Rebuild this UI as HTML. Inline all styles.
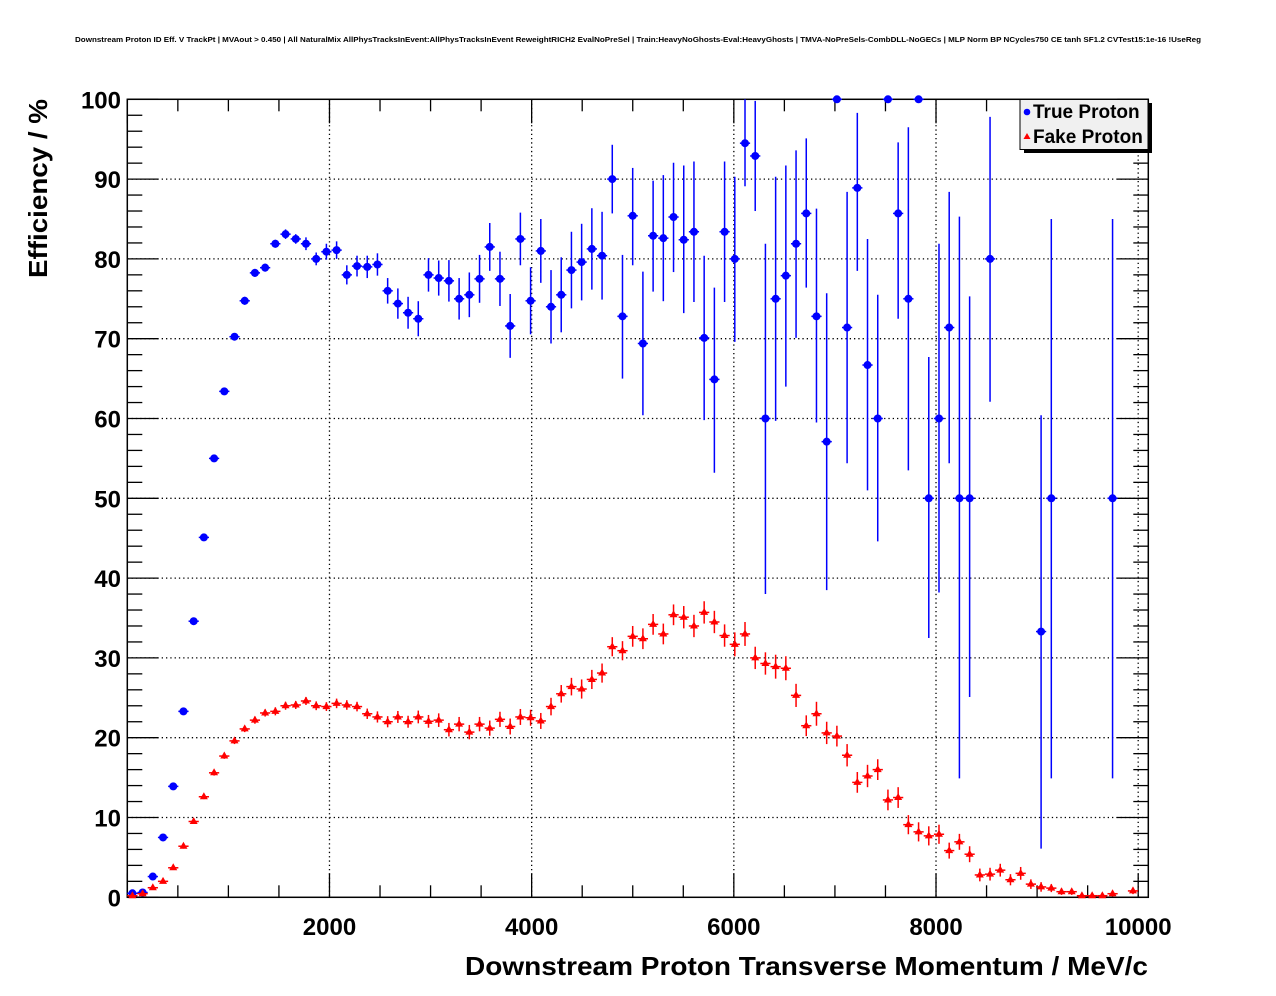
<!DOCTYPE html>
<html><head><meta charset="utf-8"><style>
body{margin:0;background:#fff;}
svg{display:block;font-family:"Liberation Sans",Arial,sans-serif;}
</style></head><body>
<svg id="chart" width="1276" height="996" viewBox="0 0 1276 996">
<rect x="0" y="0" width="1276" height="996" fill="#fff"/>
<text x="75" y="42" font-size="7.5" font-weight="bold" textLength="1126" lengthAdjust="spacingAndGlyphs">Downstream Proton ID Eff. V TrackPt | MVAout &gt; 0.450 | All NaturalMix AllPhysTracksInEvent:AllPhysTracksInEvent ReweightRICH2 EvalNoPreSel | Train:HeavyNoGhosts-Eval:HeavyGhosts | TMVA-NoPreSels-CombDLL-NoGECs | MLP Norm BP NCycles750 CE tanh SF1.2 CVTest15:1e-16 !UseReg</text>
<g id="grid"></g>
<g id="axes"></g>
<g id="blue"></g>
<g id="red"></g>
<text x="1148" y="975" text-anchor="end" font-size="26" font-weight="bold" textLength="683" lengthAdjust="spacingAndGlyphs">Downstream Proton Transverse Momentum / MeV/c</text>
<text transform="translate(47,99) rotate(-90)" text-anchor="end" font-size="26" font-weight="bold" textLength="179" lengthAdjust="spacingAndGlyphs">Efficiency / %</text>
<g>
<rect x="1024" y="103" width="128" height="50" fill="#000"/>
<rect x="1020" y="99.5" width="128" height="50" fill="#f0f0f0" stroke="#000" stroke-width="1"/>
<circle cx="1027" cy="112" r="3.3" fill="#0000ff"/>
<text x="1033" y="118" font-size="19" font-weight="bold">True Proton</text>
<polygon points="1027,133 1023.5,139 1030.5,139" fill="#ff0000"/>
<text x="1033" y="143" font-size="19" font-weight="bold">Fake Proton</text>
</g>
</svg>
<script>
const binWidth = 101;
const nBins = 100;
const trueVals = [0.5,0.6,2.6,7.5,13.9,23.3,34.6,45.1,55.0,63.4,
70.25,74.75,78.25,78.9,81.9,83.1,82.5,81.9,80,80.9,
81.1,78,79.1,79,79.3,76,74.4,73.25,72.5,78,
77.6,77.25,75,75.5,77.5,81.5,77.5,71.6,82.5,74.75,
81,74,75.5,78.6,79.6,81.25,80.4,90,72.8,85.4,
69.4,82.9,82.6,85.25,82.4,83.4,70.1,64.9,83.4,80,
94.5,92.9,60,75,77.9,81.9,85.7,72.8,57.1,100,
71.4,88.9,66.7,60,100,85.7,75,100,50,60,
71.4,50,50,null,80,null,null,null,null,33.3,
50,null,null,null,null,null,50,null,null,null];
const trueErrHi = [0.3,0.3,0.3,0.3,0.3,0.3,0.4,0.4,0.4,0.4,
0.4,0.5,0.5,0.5,0.5,0.6,0.6,0.8,0.8,1.0,
1.1,1.2,1.3,1.4,1.4,1.6,1.9,2.0,2.2,2.1,
2.2,2.6,2.6,2.8,3.0,3.0,3.4,4.0,3.3,4.2,
4.0,4.6,4.7,4.8,4.8,5.1,5.5,4.3,7.7,6.0,
9.0,6.9,7.9,6.8,9.3,8.8,10.3,11.5,8.8,10.3,
5.5,6.9,21.9,15.3,13.8,11.7,9.4,13.5,18.6,0,
17,9.4,15.8,15.5,0,8.9,21.5,0,17.7,21.9,
17,35.3,25.3,0,17.8,0,0,0,0,27.1,
35,0,0,0,0,0,35,0,0,0];
const trueErrLo = [0.3,0.3,0.3,0.3,0.3,0.3,0.4,0.4,0.4,0.4,
0.4,0.5,0.5,0.5,0.5,0.6,0.6,0.8,0.8,1.0,
1.1,1.2,1.3,1.4,1.4,1.6,1.9,2.0,2.2,2.1,
2.2,2.6,2.6,2.8,3.0,3.0,3.4,4.0,3.3,4.2,
4.0,4.6,4.7,4.8,4.8,5.1,5.5,4.3,7.8,6.2,
9.0,7.0,7.9,6.9,9.2,8.8,10.3,11.7,8.8,10.4,
5.4,6.9,22,15.3,13.9,11.8,9.3,13.3,18.6,0,
17,10.4,15.7,15.4,0,13.2,21.5,0,17.5,21.8,
17,35.1,24.9,0,17.9,0,0,0,0,27.2,
35.1,0,0,0,0,0,35.1,0,0,0];
const fakeVals = [0.2,0.45,1.2,2.0,3.7,6.4,9.5,12.6,15.6,17.7,
19.6,21.1,22.2,23.1,23.3,24.0,24.1,24.6,24.0,23.9,
24.3,24.1,23.9,23.0,22.6,22.0,22.6,22.0,22.6,22.05,
22.2,21.0,21.7,20.7,21.7,21.2,22.3,21.4,22.6,22.5,
22.1,23.9,25.5,26.4,26.1,27.3,28.1,31.4,30.9,32.7,
32.4,34.2,33.0,35.4,35.1,34.0,35.7,34.5,32.8,31.7,
33.0,30.0,29.3,28.9,28.7,25.3,21.5,23.0,20.6,20.2,
17.8,14.4,15.2,16.0,12.2,12.5,9.1,8.2,7.7,7.9,
5.85,6.95,5.4,2.8,2.9,3.4,2.2,3.0,1.65,1.3,
1.15,0.7,0.7,0.2,0.2,0.2,0.45,null,0.8,null];
const fakeErr = [0.15,0.15,0.2,0.2,0.25,0.3,0.3,0.3,0.35,0.35,
0.4,0.4,0.45,0.45,0.5,0.5,0.5,0.5,0.55,0.55,
0.6,0.6,0.6,0.65,0.7,0.7,0.75,0.75,0.8,0.8,
0.85,0.85,0.9,0.9,0.9,0.95,0.95,1.0,1.0,1.0,
1.0,1.1,1.1,1.1,1.2,1.2,1.2,1.2,1.2,1.3,
1.3,1.3,1.3,1.3,1.4,1.4,1.4,1.4,1.4,1.5,
1.5,1.4,1.4,1.5,1.5,1.45,1.3,1.5,1.4,1.3,
1.4,1.3,1.4,1.3,1.3,1.3,1.2,1.2,1.2,1.2,
1.0,1.0,1.0,0.8,0.8,0.8,0.7,0.8,0.6,0.6,
0.5,0.4,0.4,0.3,0.3,0.3,0.35,0,0.4,0];
const xTicksMajor = [0,2000,4000,6000,8000,10000];
const xTickLabels = ["","2000","4000","6000","8000","10000"];
const yTickLabels = ["0","10","20","30","40","50","60","70","80","90","100"];

const L=127.3,R=1148.3,T=99.3,B=897.3,XMAX=10100,YMAX=100;
const sx=v=>L+(v/XMAX)*(R-L);
const sy=v=>B-(v/YMAX)*(B-T);
const NS="http://www.w3.org/2000/svg";
function mk(tag,attrs,parent){const e=document.createElementNS(NS,tag);for(const k in attrs)e.setAttribute(k,attrs[k]);parent.appendChild(e);return e;}
const grid=document.getElementById('grid'),axes=document.getElementById('axes');
// grid lines
xTicksMajor.forEach(v=>{if(v>0){const g=mk('line',{x1:sx(v),x2:sx(v),y1:T,y2:B,stroke:'#000','stroke-width':1.3,'stroke-dasharray':'1.3,3'},grid);

}});
yTickLabels.forEach((s,i)=>{const v=i*10;if(v>0&&v<100){const g=mk('line',{x1:L,x2:R,y1:sy(v),y2:sy(v),stroke:'#000','stroke-width':1.3,'stroke-dasharray':'1.3,3'},grid);

}});
// frame
const fr=mk('rect',{x:L,y:T,width:R-L,height:B-T,fill:'none',stroke:'#000','stroke-width':1.5},axes);


// x ticks
for(let v=0;v<=10000;v+=500){const maj=v%2000===0;const len=maj?24:12;const x=sx(v);
mk('line',{x1:x,x2:x,y1:B,y2:B-len,stroke:'#000','stroke-width':1.3},axes);
mk('line',{x1:x,x2:x,y1:T,y2:T+len,stroke:'#000','stroke-width':1.3},axes);}
xTicksMajor.forEach((v,i)=>{if(xTickLabels[i]){const t=mk('text',{x:sx(v),y:935,'text-anchor':'middle','font-size':24,'font-weight':'bold'},axes);t.textContent=xTickLabels[i];

}});
// y ticks
for(let v=0;v<=100;v+=2){const maj=v%10===0;const len=maj?31:15;const y=sy(v);
mk('line',{x1:L,x2:L+len,y1:y,y2:y,stroke:'#000','stroke-width':1.3},axes);
mk('line',{x1:R,x2:R-len,y1:y,y2:y,stroke:'#000','stroke-width':1.3},axes);}
yTickLabels.forEach((s,i)=>{const t=mk('text',{x:121,y:sy(i*10)+9,'text-anchor':'end','font-size':24,'font-weight':'bold'},axes);t.textContent=s;

});
// series
function draw(gid,vals,eh,el,color,shape,name){const g=document.getElementById(gid);
vals.forEach((v,i)=>{if(v===null)return;const c=(i+0.5)*binWidth;const x=sx(c),y=sy(v);
const xl=sx(i*binWidth),xr=sx((i+1)*binWidth);
const p=mk('g',{},g);


mk('line',{x1:xl,x2:xr,y1:y,y2:y,stroke:color,'stroke-width':1.5},p);
const yt=sy(Math.min(100,v+eh[i])),yb=sy(Math.max(0,v-el[i]));
if(yb-yt>0.5)mk('line',{x1:x,x2:x,y1:yt,y2:yb,stroke:color,'stroke-width':1.5},p);
if(shape==='c')mk('circle',{cx:x,cy:y,r:4,fill:color},p);
else mk('polygon',{points:`${x},${y-4.5} ${x-4},${y+2.5} ${x+4},${y+2.5}`,fill:color},p);});}
draw('blue',trueVals,trueErrHi,trueErrLo,'#0000ff','c','true-proton-point');
draw('red',fakeVals,fakeErr,fakeErr,'#ff0000','t','fake-proton-point');
</script>
</body></html>
